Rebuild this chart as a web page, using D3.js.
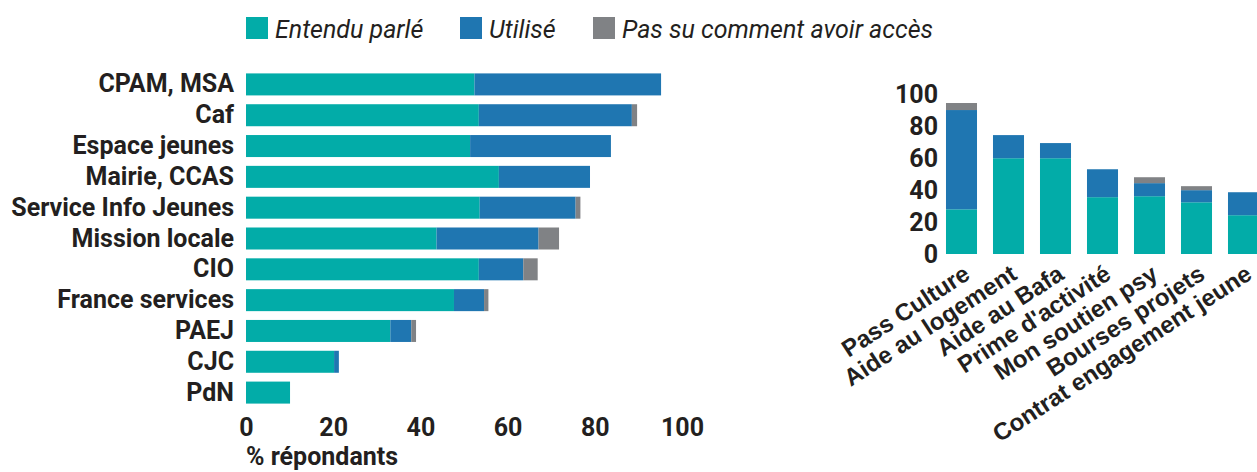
<!DOCTYPE html>
<html lang="fr">
<head>
    <meta charset="UTF-8">
    <title>Dispositifs connus et utilisés</title>
    <script src="https://d3js.org/d3.v7.min.js"></script>
    <style>
        body { margin: 0; padding: 0; background: #fff; }
        svg { display: block; }
        text { fill: #231f20; font-family: Roboto, "Liberation Sans", sans-serif; }
        .cat { font-weight: 700; font-size: 25px; }
        .tick-lbl { font-weight: 700; font-size: 25px; }
        .leg { font-style: italic; font-size: 25px; }
        .rot { font-family: "Liberation Sans", Arial, sans-serif; font-weight: 700; font-size: 24px; }
    </style>
</head>
<body>
<script>
    // données - structures (gauche)
    var structures = ['CPAM, MSA', 'Caf', 'Espace jeunes', 'Mairie, CCAS', 'Service Info Jeunes',
        'Mission locale', 'CIO', 'France services', 'PAEJ', 'CJC', 'PdN'];
    var structEntendu = [52.4, 53.4, 51.4, 58.0, 53.6, 43.7, 53.4, 47.7, 33.1, 20.2, 10.1];
    var structUtilise = [42.8, 35.1, 32.3, 20.9, 22.0, 23.4, 10.2, 6.9, 4.8, 1.1, 0];
    var structPasSu   = [0, 1.2, 0, 0, 1.1, 4.7, 3.3, 1.0, 1.1, 0, 0];

    // données - aides (droite)
    var aides = ['Pass Culture', 'Aide au logement', 'Aide au Bafa', "Prime d'activité",
        'Mon soutien psy', 'Bourses projets', 'Contrat engagement jeune'];
    var aideEntendu = [28.0, 60.0, 60.0, 35.6, 36.2, 32.4, 24.3];
    var aideUtilise = [62.2, 14.5, 9.5, 17.5, 8.2, 7.6, 14.4];
    var aidePasSu   = [4.4, 0, 0, 0, 3.7, 2.5, 0];

    var series = ['Entendu parlé', 'Utilisé', 'Pas su comment avoir accès'];
    var colors = ['#02aca8', '#1f76b1', '#808285'];
    var pctTicks = [0, 20, 40, 60, 80, 100];

    var width = 1257, height = 472;
    var svg = d3.select('body').append('svg')
        .attr('width', width)
        .attr('height', height);

    function rows(cats, a, b, c) {
        return cats.map(function(d, i) {
            var r = { cat: d };
            r[series[0]] = a[i]; r[series[1]] = b[i]; r[series[2]] = c[i];
            return r;
        });
    }
    var stack = d3.stack().keys(series);

    // légende
    var leg = svg.append('g');
    var legX = [246, 460, 593];
    series.forEach(function(s, i) {
        leg.append('rect').attr('x', legX[i]).attr('y', 17).attr('width', 22).attr('height', 22)
            .attr('fill', colors[i]);
        leg.append('text').attr('class', 'leg').attr('x', legX[i] + 29).attr('y', 38).text(s);
    });

    // graphique de gauche : barres horizontales
    var x = d3.scaleLinear().domain([0, 100]).range([246, 682]);
    var y = d3.scaleBand().domain(structures).range([69, 408]).paddingInner(0.286).paddingOuter(0.143);
    var leftData = stack(rows(structures, structEntendu, structUtilise, structPasSu));

    svg.append('g').selectAll('g')
        .data(leftData).enter().append('g')
        .attr('fill', function(d, i) { return colors[i]; })
        .selectAll('rect')
        .data(function(d) { return d; }).enter().append('rect')
        .attr('x', function(d) { return x(d[0]); })
        .attr('y', function(d) { return y(d.data.cat); })
        .attr('width', function(d) { return x(d[1]) - x(d[0]); })
        .attr('height', y.bandwidth());

    var yAxis = svg.append('g').attr('transform', 'translate(246,0)')
        .call(d3.axisLeft(y).tickSize(0).tickPadding(12));
    yAxis.select('.domain').remove();
    yAxis.selectAll('text').attr('class', 'cat').attr('fill', '#231f20').attr('font-family', null).attr('font-size', null);

    var xAxis = svg.append('g').attr('transform', 'translate(0,408)')
        .call(d3.axisBottom(x).tickValues(pctTicks).tickSize(0).tickPadding(10));
    xAxis.select('.domain').remove();
    xAxis.selectAll('text').attr('class', 'tick-lbl').attr('fill', '#231f20').attr('font-family', null).attr('font-size', null);

    svg.append('text').attr('class', 'cat').attr('x', 246).attr('y', 465)
        .text('% répondants');

    // graphique de droite : barres verticales
    var x2 = d3.scaleBand().domain(aides).range([938, 1267]).paddingInner(0.34).paddingOuter(0.17);
    var y2 = d3.scaleLinear().domain([0, 100]).range([254, 94.4]);
    var rightData = stack(rows(aides, aideEntendu, aideUtilise, aidePasSu));

    svg.append('g').selectAll('g')
        .data(rightData).enter().append('g')
        .attr('fill', function(d, i) { return colors[i]; })
        .selectAll('rect')
        .data(function(d) { return d; }).enter().append('rect')
        .attr('x', function(d) { return x2(d.data.cat); })
        .attr('y', function(d) { return y2(d[1]); })
        .attr('width', x2.bandwidth())
        .attr('height', function(d) { return y2(d[0]) - y2(d[1]); });

    var y2Axis = svg.append('g').attr('transform', 'translate(938,0)')
        .call(d3.axisLeft(y2).tickValues(pctTicks).tickSize(0).tickPadding(0));
    y2Axis.select('.domain').remove();
    y2Axis.selectAll('text').attr('class', 'tick-lbl').attr('fill', '#231f20').attr('font-family', null).attr('font-size', null);

    svg.append('g').selectAll('text')
        .data(aides).enter().append('text')
        .attr('class', 'rot')
        .attr('text-anchor', 'end')
        .attr('transform', function(d) {
            return 'translate(' + (x2(d) + x2.bandwidth() / 2 + 10) + ',278) rotate(-33)';
        })
        .text(function(d) { return d; });
</script>
</body>
</html>
